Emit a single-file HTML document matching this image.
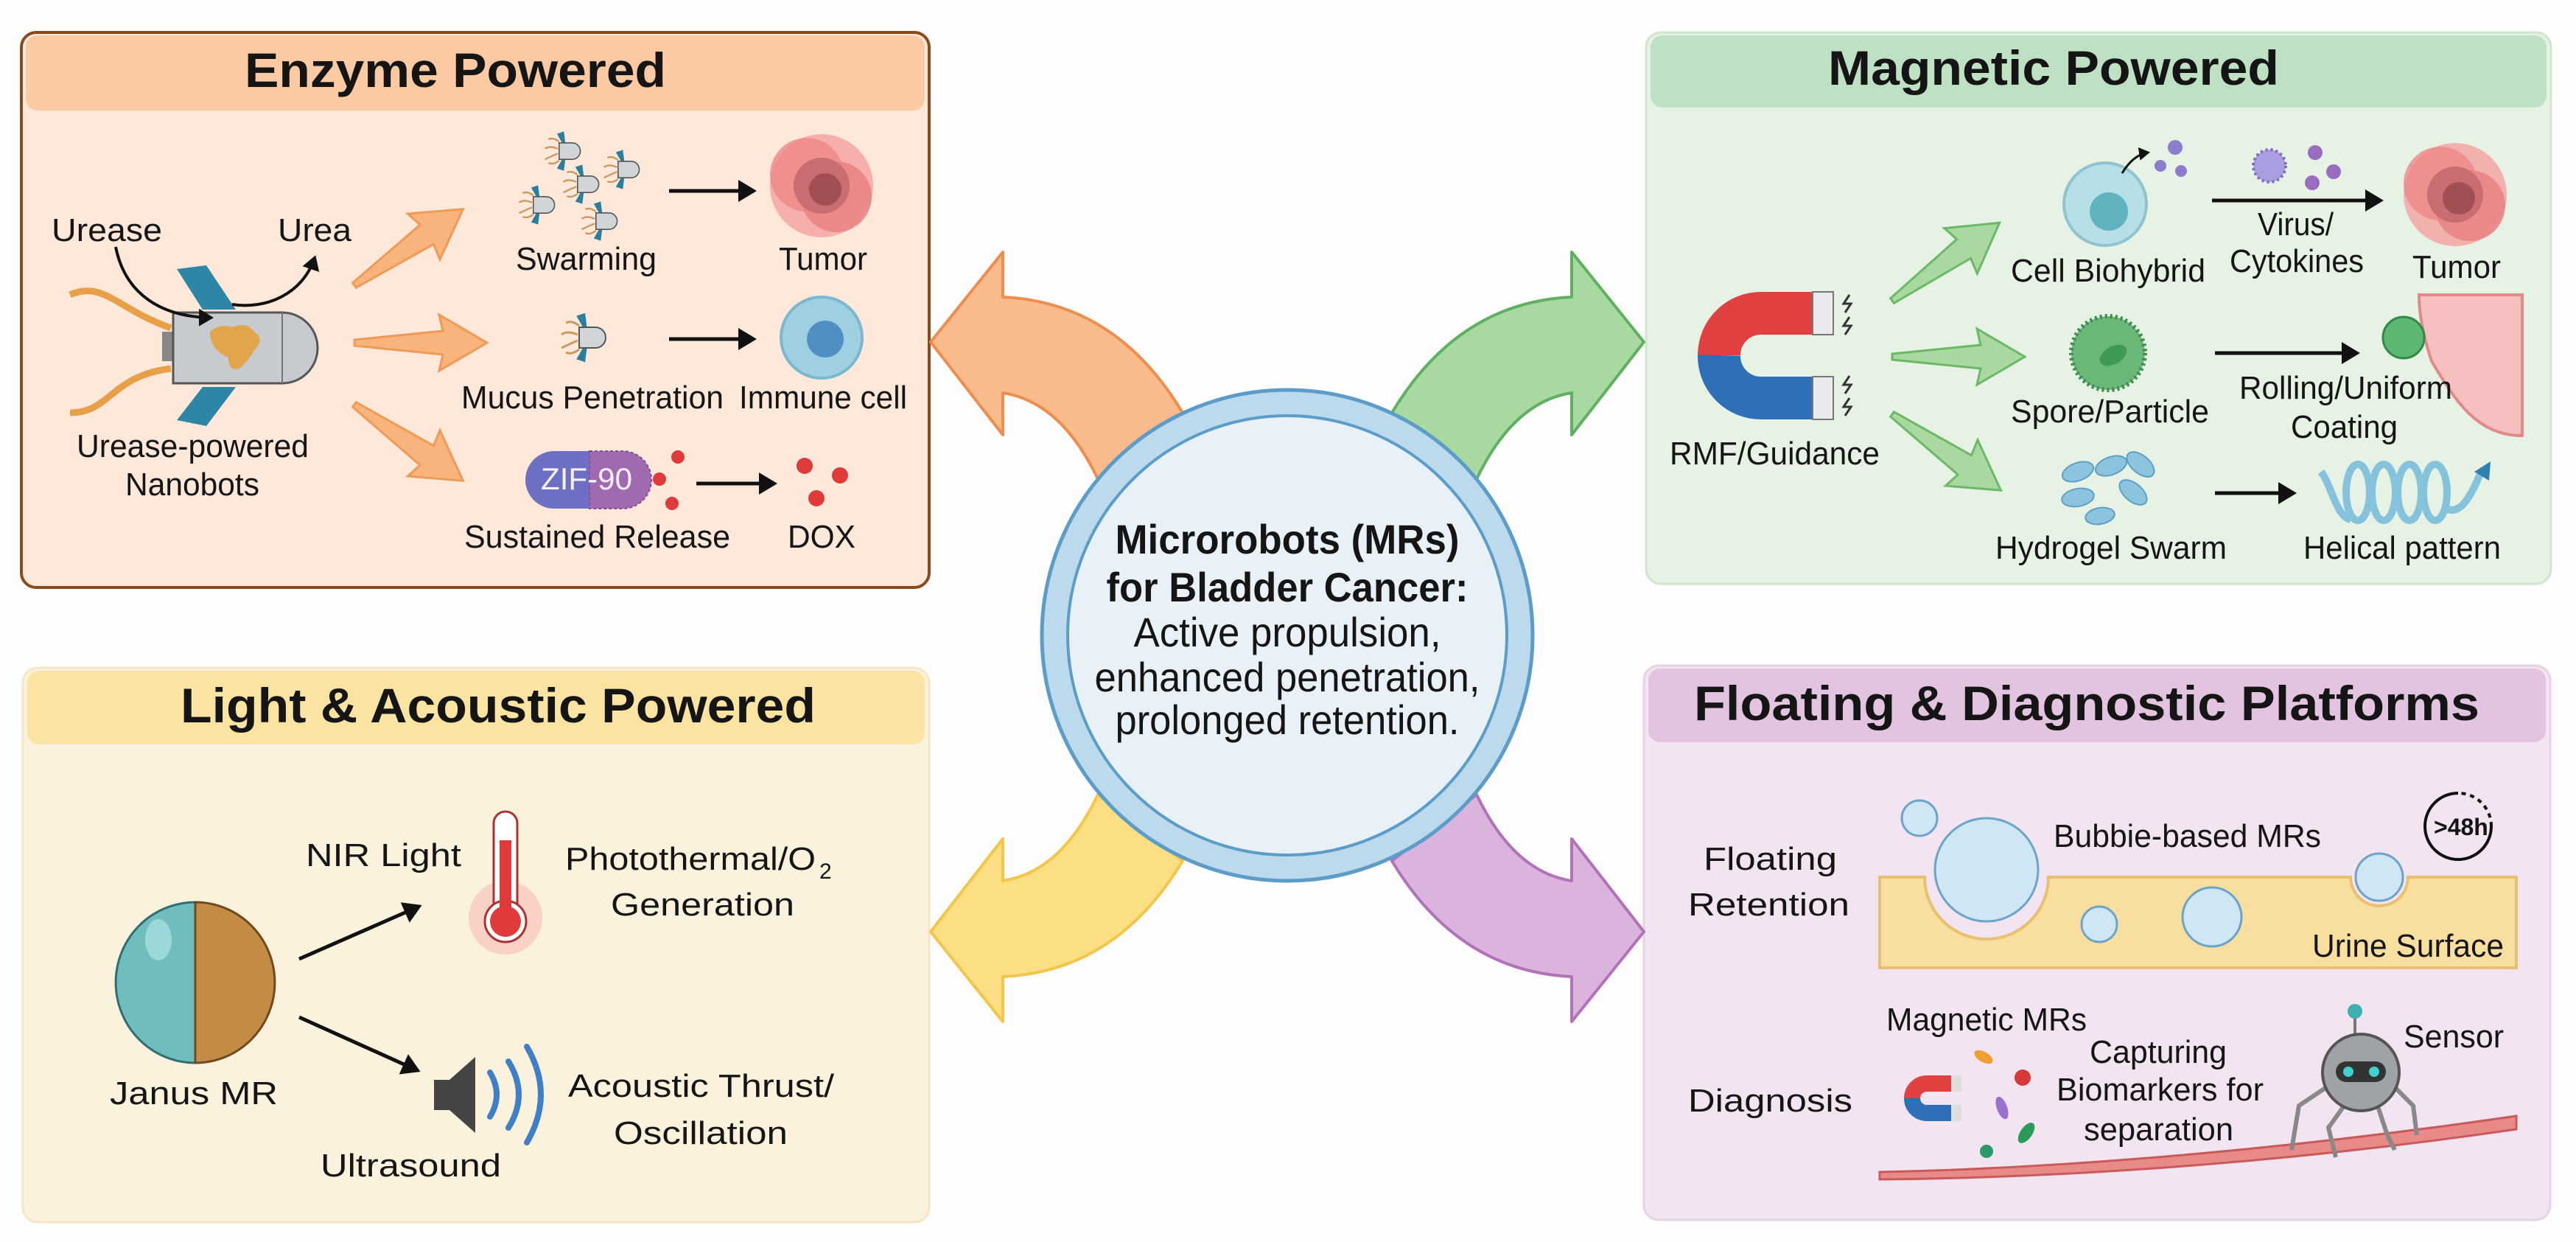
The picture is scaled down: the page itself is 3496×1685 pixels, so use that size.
<!DOCTYPE html>
<html><head><meta charset="utf-8">
<style>
html,body{margin:0;padding:0;background:#fdfdfd;}
svg{display:block;}
text{font-family:"Liberation Sans",Arial,sans-serif;fill:#151515;}
.t{font-size:66px;font-weight:bold;}
.l{font-size:44px;}
.c{font-size:56px;}
</style></head>
<body>
<svg width="3496" height="1685" viewBox="0 0 3496 1685" xmlns="http://www.w3.org/2000/svg">
<defs>
<marker id="ah" markerWidth="6" markerHeight="6" refX="4" refY="3" orient="auto" markerUnits="strokeWidth">
<path d="M0,0 L5,3 L0,6 Z" fill="#111"/></marker>
<g id="sbot">
<path d="M-14,-16 q-10,-8 -18,-4 M-14,16 q-10,8 -18,4 M-16,-4 q-14,-6 -22,0 M-16,4 q-14,6 -22,10" stroke="#c89a60" stroke-width="3" fill="none"/>
<path d="M-6,-14 l-8,-14 l6,-2 z M-6,14 l-8,14 l6,2 z" fill="#2a7f9e" stroke="#2a7f9e" stroke-width="5"/>
<path d="M-14,-14 H8 A14,14 0 0 1 8,14 H-14 Z" fill="#d2d5d8" stroke="#555" stroke-width="2"/>
</g>
<g id="arrOr">
<polygon points="0,-4 -0,4 120,16 115,38 180,0 115,-38 120,-16" fill="#f8b47c" stroke="#ef9a55" stroke-width="3"/>
</g>
<g id="arrGr">
<polygon points="0,-4 0,4 120,16 115,38 180,0 115,-38 120,-16" fill="#a9d9a0" stroke="#6bb866" stroke-width="3"/>
</g>
<g id="tumor">
<circle r="70" fill="#f4a0a0" opacity="0.8"/>
<circle cx="-20" cy="-15" r="50" fill="#ee8888" opacity="0.8"/>
<circle cx="20" cy="15" r="48" fill="#e98080" opacity="0.8"/>
<circle r="38" fill="#c86e72"/>
<circle cx="5" cy="5" r="22" fill="#a24e55"/>
</g>
</defs>

<!-- ========== Enzyme panel ========== -->
<rect x="29" y="44" width="1232" height="753" rx="20" fill="#fde8da" stroke="#8a4a1c" stroke-width="4"/>
<rect x="35" y="48" width="1220" height="102" rx="16" fill="#fbcaa2"/>
<text class="t" x="332" y="118" textLength="572" lengthAdjust="spacingAndGlyphs">Enzyme Powered</text>
<path d="M232,445 C160,420 140,380 95,400 M232,500 C150,510 150,560 95,560" stroke="#e8a048" stroke-width="9" fill="none"/>
<path d="M275,420 L240,365 L280,360 L320,420 Z M275,525 L240,570 L280,578 L320,525 Z" fill="#2e86a6"/>
<rect x="220" y="450" width="14" height="40" fill="#888"/>
<path d="M235,424 H383 A48,48 0 0 1 383,520 H235 Z" fill="#c7cbd0" stroke="#555" stroke-width="3"/>
<line x1="383" y1="424" x2="383" y2="520" stroke="#777" stroke-width="2"/>
<path d="M285,450 q15,-12 30,-6 q20,-8 30,6 q15,10 0,25 q-8,15 -20,25 q-15,5 -15,-15 q-25,-10 -25,-35z" fill="#e2a54c"/>
<path d="M157,335 C170,400 220,430 286,431" stroke="#111" stroke-width="4" fill="none" marker-end="url(#ah)"/>
<path d="M315,413 C360,420 410,400 427,350" stroke="#111" stroke-width="4" fill="none" marker-end="url(#ah)"/>
<text class="l" x="70" y="327" textLength="150" lengthAdjust="spacingAndGlyphs">Urease</text>
<text class="l" x="377" y="327" textLength="100" lengthAdjust="spacingAndGlyphs">Urea</text>
<text class="l" x="104" y="620" textLength="315" lengthAdjust="spacingAndGlyphs">Urease-powered</text>
<text class="l" x="170" y="672" textLength="182" lengthAdjust="spacingAndGlyphs">Nanobots</text>
<use href="#arrOr" transform="translate(481,387) rotate(-35)"/>
<use href="#arrOr" transform="translate(481,465)"/>
<use href="#arrOr" transform="translate(481,549) rotate(35)"/>
<use href="#sbot" transform="translate(770,205) scale(0.8)"/>
<use href="#sbot" transform="translate(850,230) scale(0.8)"/>
<use href="#sbot" transform="translate(795,250) scale(0.8)"/>
<use href="#sbot" transform="translate(735,278) scale(0.8)"/>
<use href="#sbot" transform="translate(820,300) scale(0.8)"/>
<line x1="908" y1="259" x2="1022" y2="259" stroke="#111" stroke-width="5" marker-end="url(#ah)"/>
<use href="#tumor" transform="translate(1115,252)"/>
<text class="l" x="700" y="366" textLength="191" lengthAdjust="spacingAndGlyphs">Swarming</text>
<text class="l" x="1057" y="366" textLength="120" lengthAdjust="spacingAndGlyphs">Tumor</text>
<use href="#sbot" transform="translate(800,458)"/>
<line x1="908" y1="460" x2="1022" y2="460" stroke="#111" stroke-width="5" marker-end="url(#ah)"/>
<circle cx="1115" cy="458" r="55" fill="#9fd0e2" stroke="#7ab8d0" stroke-width="4"/>
<circle cx="1120" cy="460" r="25" fill="#4f8fc4"/>
<text class="l" x="626" y="554" textLength="356" lengthAdjust="spacingAndGlyphs">Mucus Penetration</text>
<text class="l" x="1003" y="554" textLength="228" lengthAdjust="spacingAndGlyphs">Immune cell</text>
<path d="M752,612 H800 V690 H752 A39,39 0 0 1 752,612 Z" fill="#6c6fc2"/>
<path d="M800,612 H845 A39,39 0 0 1 845,690 H800 Z" fill="#a06ab0" stroke="#8a4a9a" stroke-width="2" stroke-dasharray="4 3"/>
<text x="734" y="664" font-size="42" style="fill:#f4f0ff" textLength="124" lengthAdjust="spacingAndGlyphs">ZIF-90</text>
<circle cx="920" cy="620" r="9" fill="#e03a3a"/><circle cx="895" cy="650" r="9" fill="#e03a3a"/><circle cx="912" cy="683" r="9" fill="#e03a3a"/>
<line x1="945" y1="656" x2="1050" y2="656" stroke="#111" stroke-width="5" marker-end="url(#ah)"/>
<circle cx="1092" cy="632" r="11" fill="#e03a3a"/><circle cx="1140" cy="645" r="11" fill="#e03a3a"/><circle cx="1108" cy="676" r="11" fill="#e03a3a"/>
<text class="l" x="630" y="743" textLength="361" lengthAdjust="spacingAndGlyphs">Sustained Release</text>
<text class="l" x="1069" y="743" textLength="92" lengthAdjust="spacingAndGlyphs">DOX</text>

<!-- ========== Magnetic panel ========== -->
<rect x="2234" y="44" width="1228" height="748" rx="20" fill="#e6f2e3" stroke="#cfe5cc" stroke-width="3"/>
<rect x="2240" y="48" width="1216" height="98" rx="16" fill="#bfe1c3"/>
<text class="t" x="2481" y="115" textLength="612" lengthAdjust="spacingAndGlyphs">Magnetic Powered</text>
<path d="M2460,425 H2390 A57,57 0 0 0 2333,482" stroke="#e0403f" stroke-width="58" fill="none"/>
<path d="M2333,482 A57,57 0 0 0 2390,540 H2460" stroke="#2f6fb8" stroke-width="58" fill="none"/>
<rect x="2460" y="396" width="28" height="58" fill="#e8eaec" stroke="#777" stroke-width="2"/>
<rect x="2460" y="511" width="28" height="58" fill="#e8eaec" stroke="#777" stroke-width="2"/>
<path d="M2510,400 l-8,12 h10 l-8,12 M2510,430 l-8,12 h10 l-8,12 M2510,510 l-8,12 h10 l-8,12 M2510,540 l-8,12 h10 l-8,12" stroke="#333" stroke-width="3" fill="none"/>
<text class="l" x="2266" y="630" textLength="285" lengthAdjust="spacingAndGlyphs">RMF/Guidance</text>
<use href="#arrGr" transform="translate(2568,408) rotate(-36)"/>
<use href="#arrGr" transform="translate(2568,484)"/>
<use href="#arrGr" transform="translate(2568,562) rotate(35)"/>
<circle cx="2857" cy="277" r="56" fill="#b6dfe6" stroke="#8ec4d0" stroke-width="4"/>
<circle cx="2862" cy="287" r="26" fill="#5fb4bf"/>
<path d="M2880,235 q15,-25 35,-28" stroke="#111" stroke-width="3" fill="none" marker-end="url(#ah)"/>
<circle cx="2952" cy="200" r="10" fill="#8c7ccc"/><circle cx="2932" cy="225" r="8" fill="#8c7ccc"/><circle cx="2960" cy="232" r="8" fill="#8c7ccc"/>
<circle cx="3080" cy="225" r="22" fill="#aa9ee0" stroke="#7a6ac0" stroke-width="4" stroke-dasharray="3 4"/>
<circle cx="3142" cy="207" r="10" fill="#9a6cc0"/><circle cx="3167" cy="233" r="10" fill="#9a6cc0"/><circle cx="3138" cy="248" r="10" fill="#9a6cc0"/>
<line x1="3002" y1="272" x2="3230" y2="272" stroke="#111" stroke-width="5" marker-end="url(#ah)"/>
<use href="#tumor" transform="translate(3332,264)"/>
<text class="l" x="2729" y="382" textLength="264" lengthAdjust="spacingAndGlyphs">Cell Biohybrid</text>
<text class="l" x="3064" y="319" textLength="103" lengthAdjust="spacingAndGlyphs">Virus/</text>
<text class="l" x="3026" y="369" textLength="182" lengthAdjust="spacingAndGlyphs">Cytokines</text>
<text class="l" x="3274" y="377" textLength="120" lengthAdjust="spacingAndGlyphs">Tumor</text>
<circle cx="2861" cy="479" r="50" fill="#6ab878" stroke="#3e8a4e" stroke-width="6" stroke-dasharray="3 4"/>
<ellipse cx="2868" cy="482" rx="20" ry="12" fill="#3f9a55" transform="rotate(-30 2868 482)"/>
<line x1="3006" y1="479" x2="3198" y2="479" stroke="#111" stroke-width="5" marker-end="url(#ah)"/>
<path d="M3283,400 H3423 V591 C3360,591 3330,540 3300,490 C3290,460 3283,430 3283,400 Z" fill="#f7c0c0" stroke="#e08a8a" stroke-width="4"/>
<circle cx="3262" cy="458" r="28" fill="#5cb870" stroke="#2f8a45" stroke-width="3"/>
<text class="l" x="2729" y="573" textLength="269" lengthAdjust="spacingAndGlyphs">Spore/Particle</text>
<text class="l" x="3039" y="541" textLength="289" lengthAdjust="spacingAndGlyphs">Rolling/Uniform</text>
<text class="l" x="3109" y="594" textLength="145" lengthAdjust="spacingAndGlyphs">Coating</text>
<g fill="#8cc4e0" stroke="#5e9fc4" stroke-width="2">
<ellipse cx="2820" cy="640" rx="22" ry="12" transform="rotate(-20 2820 640)"/>
<ellipse cx="2865" cy="632" rx="22" ry="12" transform="rotate(-20 2865 632)"/>
<ellipse cx="2905" cy="630" rx="22" ry="12" transform="rotate(40 2905 630)"/>
<ellipse cx="2820" cy="675" rx="22" ry="12" transform="rotate(-10 2820 675)"/>
<ellipse cx="2895" cy="668" rx="22" ry="12" transform="rotate(40 2895 668)"/>
<ellipse cx="2850" cy="700" rx="20" ry="11" transform="rotate(-10 2850 700)"/>
</g>
<line x1="3006" y1="669" x2="3112" y2="669" stroke="#111" stroke-width="5" marker-end="url(#ah)"/>
<g fill="none" stroke="#7bbddb" stroke-width="10" opacity="0.9">
<path d="M3150,640 C3165,660 3170,700 3190,705"/>
<ellipse cx="3200" cy="668" rx="16" ry="38"/>
<ellipse cx="3235" cy="668" rx="16" ry="38"/>
<ellipse cx="3270" cy="668" rx="16" ry="38"/>
<ellipse cx="3305" cy="668" rx="16" ry="38"/>
<path d="M3320,690 C3340,700 3355,670 3368,638"/>
</g>
<path d="M3358,640 l22,-14 l-2,26 z" fill="#2f7fb0"/>
<text class="l" x="2708" y="758" textLength="314" lengthAdjust="spacingAndGlyphs">Hydrogel Swarm</text>
<text class="l" x="3126" y="758" textLength="268" lengthAdjust="spacingAndGlyphs">Helical pattern</text>

<!-- ========== Light & Acoustic panel ========== -->
<rect x="31" y="906" width="1230" height="752" rx="20" fill="#fbf2dd" stroke="#f4e7c6" stroke-width="3"/>
<rect x="37" y="910" width="1218" height="100" rx="16" fill="#fbe3a1"/>
<text class="t" x="245" y="980" textLength="862" lengthAdjust="spacingAndGlyphs">Light &amp; Acoustic Powered</text>
<path d="M265,1224 A108,109 0 0 0 265,1442 Z" fill="#6fbdbd" stroke="#2f6f74" stroke-width="3"/>
<path d="M265,1224 A108,109 0 0 1 265,1442 Z" fill="#c48b45" stroke="#6e4a1e" stroke-width="3"/>
<ellipse cx="215" cy="1275" rx="18" ry="28" fill="#a8dede" opacity="0.8"/>
<text class="l" x="149" y="1498" textLength="228" lengthAdjust="spacingAndGlyphs">Janus MR</text>
<line x1="406" y1="1301" x2="568" y2="1230" stroke="#111" stroke-width="5" marker-end="url(#ah)"/>
<line x1="406" y1="1380" x2="566" y2="1452" stroke="#111" stroke-width="5" marker-end="url(#ah)"/>
<text class="l" x="415" y="1175" textLength="211" lengthAdjust="spacingAndGlyphs">NIR Light</text>
<circle cx="686" cy="1245" r="50" fill="#f7b0b0" opacity="0.5"/>
<rect x="670" y="1101" width="32" height="150" rx="16" fill="#fff" stroke="#a33" stroke-width="3"/>
<circle cx="686" cy="1250" r="28" fill="#fff" stroke="#a33" stroke-width="3"/>
<rect x="678" y="1140" width="16" height="110" fill="#e03a3a"/>
<circle cx="686" cy="1250" r="21" fill="#e03a3a"/>
<text class="l" x="767" y="1180" textLength="340" lengthAdjust="spacingAndGlyphs">Photothermal/O</text>
<text x="1112" y="1192" font-size="30">2</text>
<text class="l" x="829" y="1242" textLength="249" lengthAdjust="spacingAndGlyphs">Generation</text>
<path d="M589,1465 H610 L645,1434 V1537 L610,1506 H589 Z" fill="#444"/>
<path d="M665,1455 q18,30 0,60 M690,1440 q28,45 0,90 M715,1420 q38,65 0,130" stroke="#3f7fc8" stroke-width="8" fill="none" stroke-linecap="round"/>
<text class="l" x="435" y="1596" textLength="245" lengthAdjust="spacingAndGlyphs">Ultrasound</text>
<text class="l" x="771" y="1488" textLength="361" lengthAdjust="spacingAndGlyphs">Acoustic Thrust/</text>
<text class="l" x="833" y="1552" textLength="236" lengthAdjust="spacingAndGlyphs">Oscillation</text>

<!-- ========== Floating panel ========== -->
<rect x="2231" y="903" width="1230" height="752" rx="20" fill="#f2e4f0" stroke="#e6d3e4" stroke-width="3"/>
<rect x="2237" y="907" width="1218" height="100" rx="16" fill="#e2c3e0"/>
<text class="t" x="2299" y="977" textLength="1066" lengthAdjust="spacingAndGlyphs">Floating &amp; Diagnostic Platforms</text>
<text class="l" x="2312" y="1180" textLength="181" lengthAdjust="spacingAndGlyphs">Floating</text>
<text class="l" x="2291" y="1242" textLength="219" lengthAdjust="spacingAndGlyphs">Retention</text>
<path d="M2551,1190 H2612 A84,84 0 0 0 2780,1190 H3190 A39,39 0 0 0 3268,1190 H3415 V1313 H2551 Z" fill="#f8de9f" stroke="#e8c070" stroke-width="4"/>
<g fill="#cfe7f4" stroke="#6aa4c8" stroke-width="3">
<circle cx="2696" cy="1180" r="70"/><circle cx="2605" cy="1110" r="24"/><circle cx="2849" cy="1254" r="24"/><circle cx="3002" cy="1244" r="40"/><circle cx="3229" cy="1190" r="32"/>
</g>
<text class="l" x="2787" y="1149" textLength="363" lengthAdjust="spacingAndGlyphs">Bubbie-based MRs</text>
<path d="M3336,1076 A45,45 0 1 0 3381,1121" stroke="#111" stroke-width="4" fill="none"/>
<path d="M3381,1121 A45,45 0 0 0 3336,1076" stroke="#111" stroke-width="4" fill="none" stroke-dasharray="6 6"/>
<text x="3303" y="1133" font-size="32" font-weight="bold">&gt;48h</text>
<text class="l" x="3138" y="1298" textLength="260" lengthAdjust="spacingAndGlyphs">Urine Surface</text>
<text class="l" x="2291" y="1508" textLength="223" lengthAdjust="spacingAndGlyphs">Diagnosis</text>
<text class="l" x="2560" y="1398" textLength="272" lengthAdjust="spacingAndGlyphs">Magnetic MRs</text>
<text class="l" x="2836" y="1442" textLength="186" lengthAdjust="spacingAndGlyphs">Capturing</text>
<text class="l" x="2791" y="1493" textLength="281" lengthAdjust="spacingAndGlyphs">Biomarkers for</text>
<text class="l" x="2828" y="1547" textLength="203" lengthAdjust="spacingAndGlyphs">separation</text>
<text class="l" x="3262" y="1421" textLength="136" lengthAdjust="spacingAndGlyphs">Sensor</text>
<path d="M2551,1590 C2800,1585 3100,1560 3415,1514 V1532 C3100,1578 2800,1598 2551,1600 Z" fill="#e88a88" stroke="#c85a5a" stroke-width="3"/>
<path d="M2650,1470 H2615 A20,20 0 0 0 2595,1490" stroke="#e0403f" stroke-width="22" fill="none"/>
<path d="M2595,1490 A20,20 0 0 0 2615,1510 H2650" stroke="#2f6fb8" stroke-width="22" fill="none"/>
<rect x="2648" y="1459" width="14" height="22" fill="#ddd"/><rect x="2648" y="1499" width="14" height="22" fill="#ddd"/>
<ellipse cx="2692" cy="1434" rx="14" ry="7" fill="#f0a030" transform="rotate(30 2692 1434)"/>
<circle cx="2745" cy="1462" r="11" fill="#d83838"/>
<ellipse cx="2717" cy="1503" rx="16" ry="7" fill="#9a70d0" transform="rotate(70 2717 1503)"/>
<ellipse cx="2750" cy="1537" rx="16" ry="8" fill="#2a9a5a" transform="rotate(-55 2750 1537)"/>
<circle cx="2696" cy="1562" r="9" fill="#2a9a6a"/>
<line x1="3196" y1="1375" x2="3196" y2="1405" stroke="#777" stroke-width="4"/>
<circle cx="3196" cy="1372" r="10" fill="#3fb0b0"/>
<path d="M3165,1470 L3120,1500 L3110,1560 M3245,1470 L3275,1500 L3280,1540 M3185,1495 L3160,1530 L3170,1570 M3225,1495 L3240,1540 L3250,1560" stroke="#888" stroke-width="6" fill="none"/>
<circle cx="3204" cy="1455" r="52" fill="#9ea3a8" stroke="#555" stroke-width="4"/>
<rect x="3170" y="1440" width="68" height="28" rx="14" fill="#333"/>
<circle cx="3187" cy="1454" r="7" fill="#3fd0d0"/><circle cx="3222" cy="1454" r="7" fill="#3fd0d0"/>

<!-- ========== Central curved arrows ========== -->
<g stroke-width="4" stroke-linejoin="round">
<path d="M1263,464 L1361,342 L1361,403 Q1515,410 1605,560 L1490,650 Q1440,545 1361,533 L1361,590 Z" fill="#f9bb8c" stroke="#ec8e4e"/>
<path transform="translate(3494,0) scale(-1,1)" d="M1263,464 L1361,342 L1361,403 Q1515,410 1605,560 L1490,650 Q1440,545 1361,533 L1361,590 Z" fill="#a8d9a0" stroke="#5fb060"/>
<path transform="translate(0,1728) scale(1,-1)" d="M1263,464 L1361,342 L1361,403 Q1515,410 1605,560 L1490,650 Q1440,545 1361,533 L1361,590 Z" fill="#fbdf82" stroke="#f2c64a"/>
<path transform="translate(3494,1728) scale(-1,-1)" d="M1263,464 L1361,342 L1361,403 Q1515,410 1605,560 L1490,650 Q1440,545 1361,533 L1361,590 Z" fill="#dbb4dd" stroke="#b272ba"/>
</g>

<!-- ========== Center circle ========== -->
<circle cx="1747" cy="862" r="333" fill="#bcdaec" stroke="#5b9cc8" stroke-width="5"/>
<circle cx="1747" cy="862" r="298" fill="#e8f1f8" stroke="#5b9cc8" stroke-width="4"/>
<g text-anchor="middle">
<text class="c" x="1747" y="751" font-weight="bold" textLength="467" lengthAdjust="spacingAndGlyphs">Microrobots (MRs)</text>
<text class="c" x="1747" y="816" font-weight="bold" textLength="491" lengthAdjust="spacingAndGlyphs">for Bladder Cancer:</text>
<text class="c" x="1747" y="877" textLength="417" lengthAdjust="spacingAndGlyphs">Active propulsion,</text>
<text class="c" x="1747" y="938" textLength="523" lengthAdjust="spacingAndGlyphs">enhanced penetration,</text>
<text class="c" x="1747" y="996" textLength="467" lengthAdjust="spacingAndGlyphs">prolonged retention.</text>
</g>
</svg>
</body></html>
